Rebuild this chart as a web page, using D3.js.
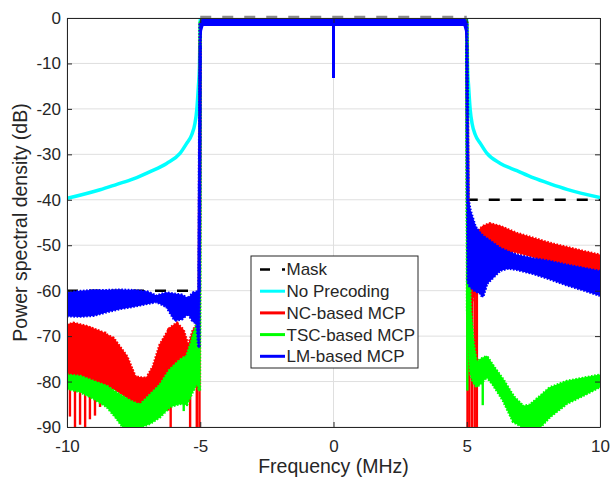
<html>

<head>
    <title>PSD</title>
    <script src="https://d3js.org/d3.v7.min.js"></script>
    <style>
        body { margin: 0; background: #fff; }
        text { font-family: "Liberation Sans", Arial, sans-serif; fill: #262626; }
    </style>
</head>

<body>
    <script>
        // axis ticks
        const freqTicks = [-10, -5, 0, 5, 10]
        const psdTicks = [-90, -80, -70, -60, -50, -40, -30, -20, -10, 0]

        // spectral mask, one dashed segment per region
        const maskStart = [-10, -5, 5]
        const maskEnd = [-5, 5, 10]
        const maskLevel = [-60, 0, -40]

        // no precoding (single line)
        const npFreq = [-10, -8.76, -8.13, -7.51, -6.88, -6.26, -5.76, -5.51, -5.32, -5.2, -5.13, -5.07, -5.03, -5.0,
            5.0, 5.03, 5.07, 5.13, 5.2, 5.32, 5.51, 5.76, 6.26, 6.88, 7.51, 8.13, 8.76, 10]
        const npPsd = [-39.7, -37.8, -36.6, -35.4, -33.8, -32.0, -29.8, -27.6, -25.7, -23.2, -20.2, -15.1, -10.7, -0.3,
            -0.3, -10.7, -15.1, -20.2, -23.2, -25.7, -27.6, -29.8, -32.0, -33.6, -35.2, -36.5, -37.7, -39.5]

        // NC-based MCP: envelope of the ripple (upper / lower) plus deep notches
        const ncFreq = [-10, -9.76, -9.26, -8.76, -8.26, -7.76, -7.45, -7.26, -7.01, -6.76, -6.51, -6.14, -5.88, -5.64, -5.45, -5.26, -5.13, -5.04,
            -5.0, -4.96, 4.96, 5.0, 5.05, 5.2, 5.43, 5.6, 5.87, 6.25, 6.87, 7.5, 8.12, 8.75, 9.37, 10]
        const ncUpper = [-67.6, -67.2, -67.9, -69, -70.5, -74.5, -78.9, -79.2, -79.3, -76.7, -72, -68.3, -67.2, -68.7, -72.3, -68.7, -67.6, -67.5,
            -0.8, -0.3, -0.3, -0.8, -44, -47, -47, -45.9, -45.3, -45.9, -47.4, -48.5, -49.6, -50.5, -51.4, -52.2]
        const ncLower = [-79, -79, -79.5, -80.5, -81.5, -83.5, -85.5, -86.5, -85, -83, -81, -78.5, -76.5, -75, -76, -74, -72, -72,
            -5, -1.5, -1.5, -5, -62, -62, -58, -57, -53, -51, -51.5, -52.5, -53.8, -54.8, -55.6, -56.5]
        const ncNotchFreq = [-9.89, -9.7, -9.51, -9.32, -9.14, -8.95, -8.76, -8.57, -7.26, -6.2, -6.11, -5.38, -5.13, -5.03,
            5.03, 5.1, 5.2, 5.3, 5.38]
        const ncNotchPsd = [-87.7, -90, -89.5, -90, -88.3, -87.5, -85.6, -84.9, -90, -86.4, -90, -90, -90, -90,
            -90, -90, -90, -90, -90]

        // TSC-based MCP
        const tscFreq = [-10, -9.5, -9, -8.5, -8.14, -7.89, -7.6, -7.26, -6.89, -6.51, -6.14, -5.76, -5.51, -5.32, -5.2, -5.11, -5.03,
            -5.0, -4.96, 4.96, 5.0, 5.03, 5.08, 5.14, 5.24, 5.37, 5.5, 5.75, 6.0, 6.37, 6.75, 7.12, 7.37, 7.75, 8.12, 8.75, 9.37, 10]
        const tscUpper = [-78.6, -78.9, -80, -81.1, -82.5, -83.4, -84.4, -85.2, -83, -80.8, -77.5, -75.3, -74.5, -71.2, -68.7, -67.2, -70,
            -0.8, -0.3, -0.3, -0.8, -44, -55, -64, -71.6, -76, -75.2, -74.5, -76.7, -79.7, -83.3, -85.5, -85.2, -83.3, -81.4, -80, -79.3, -78.6]
        const tscLower = [-81.5, -82.2, -83.7, -85.5, -88, -90, -90, -90, -89.2, -87.7, -85.5, -84.8, -85, -82.5, -81.1, -80, -82,
            -5, -1.5, -1.5, -5, -64, -72, -78, -80, -81.1, -80.5, -78.9, -80.7, -84.1, -88.8, -90, -90, -90, -87.7, -84.8, -83, -81.1]
        const tscNotchFreq = [-5.62, 5.02, 5.6]
        const tscNotchPsd = [-86.5, -82, -85.2]

        // LM-based MCP
        const lmFreq = [-10, -9.5, -9, -8.5, -8, -7.5, -7, -6.64, -6.26, -5.95, -5.7, -5.45, -5.26, -5.13, -5.05,
            -5.0, -4.96, -4.9, 4.9, 4.96, 5.0, 5.05, 5.12, 5.31, 5.5, 5.6, 5.75, 6.25, 6.56, 6.87, 7.5, 8.12, 8.75, 9.37, 10]
        const lmUpper = [-60.5, -60.2, -60, -60, -59.9, -60, -60.3, -61.2, -60.5, -60.8, -61, -61.8, -60.5, -60.3, -60,
            -1.2, -0.5, -0.3, -0.3, -0.5, -1.2, -40, -42.3, -45.9, -47.4, -48, -48.6, -50.7, -51.5, -52.2, -53, -53.6, -54.4, -55.1, -55.8]
        const lmLower = [-65.5, -65.6, -65.4, -64.6, -63.9, -63.4, -62.8, -62.4, -63.5, -66.5, -66.2, -65, -66.8, -67, -72.5,
            -6, -2.8, -1.6, -1.6, -2.8, -6, -58, -59, -60, -60.5, -61.3, -58.4, -55.5, -55, -55.3, -56.2, -57.4, -58.7, -59.8, -61]
        const lmNotchFreq = [0]
        const lmNotchPsd = [-13.2]

        const legendNames = ['Mask', 'No Precoding', 'NC-based MCP', 'TSC-based MCP', 'LM-based MCP']
        const legendColors = ['#000000', '#00ffff', '#ff0000', '#00ff00', '#0000ff']

        const width = 610, height = 483
        const mLeft = 67, mRight = 600, mTop = 18, mBottom = 427

        const x = d3.scaleLinear().domain([-10, 10]).range([mLeft, mRight])
        const y = d3.scaleLinear().domain([-90, 0]).range([mBottom, mTop])

        const svg = d3.select('body').append('svg')
            .attr('width', width)
            .attr('height', height)

        svg.append('clipPath').attr('id', 'plot')
            .append('rect')
            .attr('x', mLeft).attr('y', mTop)
            .attr('width', mRight - mLeft).attr('height', mBottom - mTop)

        // grid
        const grid = svg.append('g').attr('stroke', '#dfdfdf').attr('stroke-width', 1)
        grid.selectAll('.gx').data(freqTicks).enter().append('line')
            .attr('x1', d => x(d)).attr('x2', d => x(d))
            .attr('y1', mTop).attr('y2', mBottom)
        grid.selectAll('.gy').data(psdTicks).enter().append('line')
            .attr('x1', mLeft).attr('x2', mRight)
            .attr('y1', d => y(d)).attr('y2', d => y(d))

        // mask
        svg.append('g').selectAll('line')
            .data(maskLevel.map((v, i) => ({ f0: maskStart[i], f1: maskEnd[i], v: v })))
            .enter().append('line')
            .attr('x1', d => x(d.f0)).attr('x2', d => x(d.f1))
            .attr('y1', d => d.v === 0 ? y(d.v) - 1 : y(d.v))
            .attr('y2', d => d.v === 0 ? y(d.v) - 1 : y(d.v))
            .attr('stroke', d => d.v === 0 ? '#8a8a8a' : '#000')
            .attr('stroke-width', 2.5)
            .attr('stroke-dasharray', '11,11')

        const plot = svg.append('g').attr('clip-path', 'url(#plot)')

        // no precoding
        const npLine = d3.line()
            .x(d => x(d[0]))
            .y(d => y(d[1]))
            .curve(d3.curveMonotoneX)
        plot.append('path')
            .attr('d', npLine(npFreq.map((f, i) => [f, npPsd[i]])))
            .attr('fill', 'none')
            .attr('stroke', '#00ffff')
            .attr('stroke-width', 3.5)

        const band = d3.area()
            .x(d => x(d.f))
            .y0(d => y(d.lo))
            .y1(d => y(d.hi))
        const edgeHi = d3.line().x(d => x(d.f)).y(d => y(d.hi))
        const edgeLo = d3.line().x(d => x(d.f)).y(d => y(d.lo))

        function drawSeries(freq, upper, lower, notchFreq, notchPsd, color, notchWidth) {
            const data = freq.map((f, i) => ({ f: f, hi: upper[i], lo: lower[i] }))
            const g = plot.append('g')
            g.append('path')
                .attr('d', band(data))
                .attr('fill', color)
                .attr('stroke', color)
                .attr('stroke-width', 1.6)
                .attr('stroke-linejoin', 'round')
            // ripple teeth along the envelope, only outside the passband
            const outer = [data.filter(d => d.f <= -5.0), data.filter(d => d.f >= 5.0)]
            outer.forEach(part => {
                ;[edgeHi, edgeLo].forEach(edge => {
                    g.append('path')
                        .attr('d', edge(part))
                        .attr('fill', 'none')
                        .attr('stroke', color)
                        .attr('stroke-width', 3.5)
                        .attr('stroke-dasharray', '1.6,1.6')
                })
            })
            const near = d3.bisector(d => d.f).center
            g.append('g').selectAll('line')
                .data(notchFreq.map((f, i) => ({ f: f, v: notchPsd[i] })))
                .enter().append('line')
                .attr('x1', d => x(d.f)).attr('x2', d => x(d.f))
                .attr('y1', d => y(data[near(data, d.f)].hi))
                .attr('y2', d => y(d.v))
                .attr('stroke', color)
                .attr('stroke-width', notchWidth)
        }

        drawSeries(ncFreq, ncUpper, ncLower, ncNotchFreq, ncNotchPsd, '#ff0000', 2.4)
        drawSeries(tscFreq, tscUpper, tscLower, tscNotchFreq, tscNotchPsd, '#00ff00', 2.4)
        drawSeries(lmFreq, lmUpper, lmLower, lmNotchFreq, lmNotchPsd, '#0000ff', 3)

        // axes, MATLAB style box with inward ticks
        const fmt = d => String(d)
        svg.append('g').attr('transform', 'translate(0,' + mBottom + ')')
            .call(d3.axisBottom(x).tickValues(freqTicks).tickFormat(fmt).tickSizeInner(-5).tickSizeOuter(0).tickPadding(13))
        svg.append('g').attr('transform', 'translate(0,' + mTop + ')')
            .call(d3.axisTop(x).tickValues(freqTicks).tickFormat('').tickSizeInner(-5).tickSizeOuter(0))
        svg.append('g').attr('transform', 'translate(' + mLeft + ',0)')
            .call(d3.axisLeft(y).tickValues(psdTicks).tickFormat(fmt).tickSizeInner(-5).tickSizeOuter(0).tickPadding(6))
        svg.append('g').attr('transform', 'translate(' + mRight + ',0)')
            .call(d3.axisRight(y).tickValues(psdTicks).tickFormat('').tickSizeInner(-5).tickSizeOuter(0))

        svg.selectAll('.domain').attr('stroke', '#262626')
        svg.selectAll('.tick line').attr('stroke', '#262626')
        svg.selectAll('.tick text').attr('font-size', 17).attr('fill', '#262626')
            .attr('font-family', '"Liberation Sans", Arial, sans-serif')

        svg.append('text')
            .attr('x', (mLeft + mRight) / 2)
            .attr('y', 472.5)
            .attr('text-anchor', 'middle')
            .attr('font-size', 19.5)
            .text('Frequency (MHz)')

        svg.append('text')
            .attr('transform', 'translate(27,' + (mTop + mBottom) / 2 + ') rotate(-90)')
            .attr('text-anchor', 'middle')
            .attr('font-size', 19.5)
            .text('Power spectral density (dB)')

        // legend
        const legend = svg.append('g').attr('transform', 'translate(251,256)')
        legend.append('rect')
            .attr('width', 167).attr('height', 112)
            .attr('fill', '#fff')
            .attr('stroke', '#262626')
            .attr('stroke-width', 1)
        const rows = legend.selectAll('.row').data(legendNames).enter().append('g')
            .attr('transform', (d, i) => 'translate(0,' + (13.5 + i * 21.7) + ')')
        rows.append('line')
            .attr('x1', 9).attr('x2', 34)
            .attr('stroke', (d, i) => legendColors[i])
            .attr('stroke-width', (d, i) => i === 0 ? 2.5 : 3)
            .attr('stroke-dasharray', (d, i) => i === 0 ? '10,12' : null)
        rows.append('text')
            .attr('x', 35.5)
            .attr('dy', '0.35em')
            .attr('font-size', 17)
            .text(d => d)
    </script>
</body>

</html>
